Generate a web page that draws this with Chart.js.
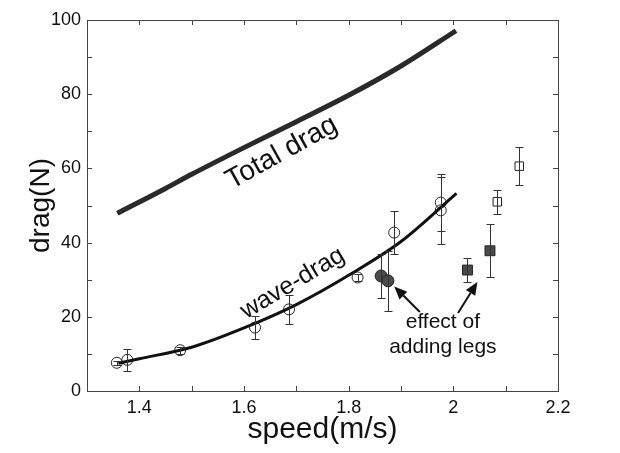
<!DOCTYPE html>
<html>
<head>
<meta charset="utf-8">
<script src="https://cdn.jsdelivr.net/npm/chart.js@4/dist/chart.umd.min.js"></script>
<style>
  html, body { margin: 0; padding: 0; background: #fff; }
  #wrap { width: 620px; height: 453px; }
</style>
</head>
<body>
<div id="wrap"><canvas id="dragChart"></canvas></div>
<script>
// Fitted curves
const totalSpeed = [1.358, 1.45, 1.5, 1.6, 1.7, 1.8, 1.9, 2.005];
const totalDrag = [47.9, 54.6, 58.4, 65.6, 72.6, 79.7, 87.6, 97.1];
const waveSpeed = [1.36, 1.4, 1.5, 1.6, 1.7, 1.8, 1.9, 2.006];
const waveDrag = [7.5, 8.7, 11.8, 17.0, 23.3, 31.2, 40.3, 53.3];

// Measured points with error bars
const openCircleSpeed = [1.357, 1.377, 1.478, 1.621, 1.686, 1.817, 1.887, 1.976, 1.976];
const openCircleDrag = [7.6, 8.4, 11.0, 17.1, 22.0, 30.6, 42.7, 50.8, 48.7];
const openCircleErr = [0.5, 2.9, 0.9, 3.0, 4.0, 0.9, 5.8, 7.7, 9.1];
const legCircleSpeed = [1.862, 1.875];
const legCircleDrag = [31.0, 29.7];
const legCircleErr = [6.0, 8.1];
const openSquareSpeed = [2.084, 2.126];
const openSquareDrag = [51.0, 60.6];
const openSquareErr = [3.2, 5.2];
const legSquareSpeed = [2.027, 2.070];
const legSquareDrag = [32.6, 37.8];
const legSquareErr = [3.2, 7.2];

// Annotation arrows: [tailSpeed, tailDrag, headSpeed, headDrag]
const arrows = [
    [1.936, 21.3, 1.887, 28.2],
    [2.009, 21.0, 2.046, 29.4]
];

function pts(xs, ys) {
    return xs.map((x, i) => ({ x: x, y: ys[i] }));
}

const errorBars = {
    id: 'errorBars',
    afterDatasetsDraw(chart) {
        const ctx = chart.ctx;
        const xs = chart.scales.x, ys = chart.scales.y;
        ctx.save();
        ctx.strokeStyle = '#333';
        ctx.lineWidth = 1;
        chart.data.datasets.forEach(ds => {
            if (!ds.err) return;
            ds.data.forEach((p, i) => {
                const px = Math.round(xs.getPixelForValue(p.x)) + 0.5;
                const top = Math.round(ys.getPixelForValue(p.y + ds.err[i])) + 0.5;
                const bot = Math.round(ys.getPixelForValue(p.y - ds.err[i])) + 0.5;
                ctx.beginPath();
                ctx.moveTo(px, top); ctx.lineTo(px, bot);
                ctx.moveTo(px - 4, top); ctx.lineTo(px + 4, top);
                ctx.moveTo(px - 4, bot); ctx.lineTo(px + 4, bot);
                ctx.stroke();
            });
        });
        ctx.restore();
    }
};

const frameAndNotes = {
    id: 'frameAndNotes',
    afterDraw(chart) {
        const ctx = chart.ctx;
        const xs = chart.scales.x, ys = chart.scales.y;
        const a = chart.chartArea;
        ctx.save();
        // frame
        ctx.strokeStyle = '#444';
        ctx.lineWidth = 1;
        ctx.strokeRect(a.left + 0.5, a.top + 0.5, a.right - a.left, a.bottom - a.top);
        // inward ticks on all four sides
        ctx.beginPath();
        xs.ticks.forEach(t => {
            const px = Math.round(xs.getPixelForValue(t.value)) + 0.5;
            ctx.moveTo(px, a.bottom); ctx.lineTo(px, a.bottom - 5);
            ctx.moveTo(px, a.top); ctx.lineTo(px, a.top + 5);
        });
        ys.ticks.forEach(t => {
            const py = Math.round(ys.getPixelForValue(t.value)) + 0.5;
            ctx.moveTo(a.left, py); ctx.lineTo(a.left + 5, py);
            ctx.moveTo(a.right, py); ctx.lineTo(a.right - 5, py);
        });
        ctx.stroke();

        // rotated curve labels
        ctx.fillStyle = '#111';
        ctx.textAlign = 'center';
        ctx.textBaseline = 'middle';
        ctx.font = '28px "Liberation Sans", Arial, sans-serif';
        ctx.save();
        ctx.translate(xs.getPixelForValue(1.672), ys.getPixelForValue(64.2));
        ctx.rotate(-29 * Math.PI / 180);
        ctx.fillText('Total drag', 0, 0);
        ctx.restore();
        ctx.font = '25px "Liberation Sans", Arial, sans-serif';
        ctx.save();
        ctx.translate(xs.getPixelForValue(1.693), ys.getPixelForValue(29.0));
        ctx.rotate(-31 * Math.PI / 180);
        ctx.fillText('wave-drag', 0, 0);
        ctx.restore();

        ctx.font = '21px "Liberation Sans", Arial, sans-serif';
        ctx.fillText('effect of', xs.getPixelForValue(1.980), ys.getPixelForValue(18.6));
        ctx.fillText('adding legs', xs.getPixelForValue(1.980), ys.getPixelForValue(11.9));

        // arrows
        ctx.strokeStyle = '#111';
        ctx.lineWidth = 2;
        arrows.forEach(r => {
            const x0 = xs.getPixelForValue(r[0]), y0 = ys.getPixelForValue(r[1]);
            const x1 = xs.getPixelForValue(r[2]), y1 = ys.getPixelForValue(r[3]);
            const ang = Math.atan2(y1 - y0, x1 - x0);
            const hl = 13, hw = 5.5;
            const bx = x1 - hl * Math.cos(ang), by = y1 - hl * Math.sin(ang);
            ctx.beginPath();
            ctx.moveTo(x0, y0); ctx.lineTo(bx, by);
            ctx.stroke();
            ctx.beginPath();
            ctx.moveTo(x1, y1);
            ctx.lineTo(bx + hw * Math.sin(ang), by - hw * Math.cos(ang));
            ctx.lineTo(bx - hw * Math.sin(ang), by + hw * Math.cos(ang));
            ctx.closePath();
            ctx.fill();
        });
        ctx.restore();
    }
};

const ctx = document.getElementById('dragChart').getContext('2d');
new Chart(ctx, {
    type: 'scatter',
    data: {
        datasets: [
            {
                label: 'Total drag',
                data: pts(totalSpeed, totalDrag),
                showLine: true,
                borderColor: '#2a2a2a',
                borderWidth: 5,
                cubicInterpolationMode: 'monotone',
                pointRadius: 0
            },
            {
                label: 'Total drag core',
                data: pts(totalSpeed, totalDrag),
                showLine: true,
                borderColor: '#6a6a6a',
                borderWidth: 1.5,
                cubicInterpolationMode: 'monotone',
                pointRadius: 0
            },
            {
                label: 'wave-drag',
                data: pts(waveSpeed, waveDrag),
                showLine: true,
                borderColor: '#111',
                borderWidth: 3,
                cubicInterpolationMode: 'monotone',
                pointRadius: 0
            },
            {
                label: 'no legs',
                data: pts(openCircleSpeed, openCircleDrag),
                err: openCircleErr,
                pointStyle: 'circle',
                pointRadius: 5.5,
                borderColor: '#222',
                borderWidth: 1,
                backgroundColor: 'rgba(0,0,0,0)'
            },
            {
                label: 'legs',
                data: pts(legCircleSpeed, legCircleDrag),
                err: legCircleErr,
                pointStyle: 'circle',
                pointRadius: 6,
                borderColor: '#222',
                borderWidth: 1,
                backgroundColor: '#4a4a4a'
            },
            {
                label: 'no legs (sq)',
                data: pts(openSquareSpeed, openSquareDrag),
                err: openSquareErr,
                pointStyle: 'rect',
                pointRadius: 6,
                borderColor: '#222',
                borderWidth: 1,
                backgroundColor: 'rgba(0,0,0,0)'
            },
            {
                label: 'legs (sq)',
                data: pts(legSquareSpeed, legSquareDrag),
                err: legSquareErr,
                pointStyle: 'rect',
                pointRadius: 7,
                borderColor: '#222',
                borderWidth: 1,
                backgroundColor: '#4a4a4a'
            }
        ]
    },
    options: {
        responsive: true,
        maintainAspectRatio: false,
        animation: false,
        events: [],
        layout: { padding: { left: 0, right: 62, top: 20, bottom: 0 } },
        plugins: {
            legend: { display: false },
            tooltip: { enabled: false }
        },
        scales: {
            x: {
                type: 'linear',
                min: 1.3,
                max: 2.2,
                grid: { display: false, drawTicks: false },
                border: { display: false },
                ticks: {
                    stepSize: 0.1,
                    padding: 6,
                    color: '#111',
                    font: { family: '"Liberation Sans", Arial, sans-serif', size: 18 },
                    callback: v => {
                        const k = Math.round(v * 10);
                        return k % 2 === 0 ? String(k / 10) : '';
                    }
                },
                title: {
                    display: true,
                    text: 'speed(m/s)',
                    color: '#111',
                    font: { family: '"Liberation Sans", Arial, sans-serif', size: 30 },
                    padding: { top: 0, bottom: 5 }
                },
                afterFit: s => { s.height = 62; }
            },
            y: {
                min: 0,
                max: 100,
                grid: { display: false, drawTicks: false },
                border: { display: false },
                ticks: {
                    stepSize: 10,
                    padding: 6,
                    color: '#111',
                    font: { family: '"Liberation Sans", Arial, sans-serif', size: 18 },
                    callback: v => (v % 20 === 0 ? String(v) : '')
                },
                title: {
                    display: true,
                    text: 'drag(N)',
                    color: '#111',
                    font: { family: '"Liberation Sans", Arial, sans-serif', size: 28 },
                    padding: { top: 24, bottom: 0 }
                },
                afterFit: s => { s.width = 87; }
            }
        }
    },
    plugins: [errorBars, frameAndNotes]
});
</script>
</body>
</html>
